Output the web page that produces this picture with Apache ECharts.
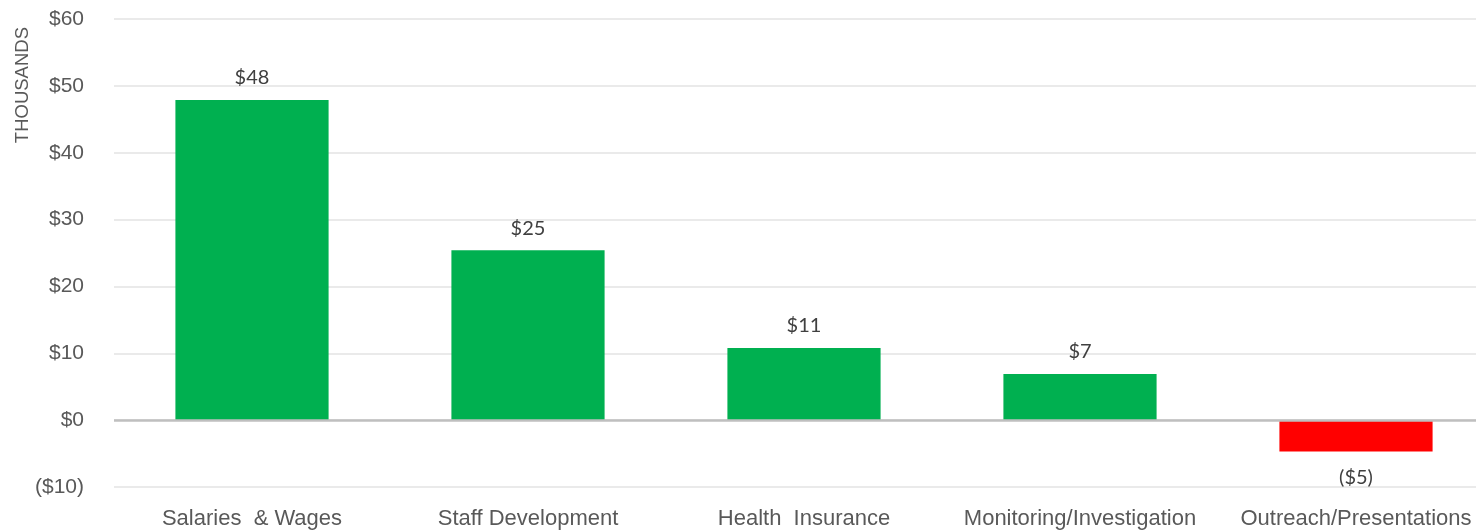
<!DOCTYPE html>
<html><head><meta charset="utf-8">
<script src="https://cdn.jsdelivr.net/npm/echarts@6/dist/echarts.min.js"></script>
<style>html,body{margin:0;padding:0;background:#fff;overflow:hidden;width:1476px;height:530px}#c{width:1494px;height:530px}</style>
</head><body><div id="c"></div>
<script>
const categories = ["Salaries  & Wages", "Staff Development", "Health  Insurance", "Monitoring/Investigation", "Outreach/Presentations"];
const values = [47.9, 25.4, 10.8, 6.9, -4.7];
const yTicks = [-10, 0, 10, 20, 30, 40, 50, 60];
const axisTitle = "THOUSANDS";

const fmtMoney = v => { const r = Math.round(v); return r < 0 ? "($" + Math.abs(r) + ")" : "$" + r; };

const chart = echarts.init(document.getElementById('c'), null, {renderer: 'canvas'});
chart.setOption({
  animation: false,
  backgroundColor: '#fff',
  grid: {left: 114, right: 0, top: 19, bottom: 42, containLabel: false},
  xAxis: {
    type: 'category', data: categories,
    axisLine: {show: false, onZero: false}, axisTick: {show: false},
    axisLabel: {interval: 0, hideOverlap: false, color: '#595959', fontSize: 22, fontFamily: 'Liberation Sans, Arial', margin: 21}
  },
  yAxis: {
    type: 'value', min: yTicks[0], max: yTicks[yTicks.length - 1], interval: 10,
    axisLine: {show: false}, axisTick: {show: false},
    splitLine: {lineStyle: {color: '#e3e3e3', width: 1.5}},
    axisLabel: {color: '#595959', fontSize: 21, fontFamily: 'Liberation Sans, Arial', margin: 30, formatter: fmtMoney}
  },
  graphic: [{
    type: 'text', left: 13, top: 27, rotation: Math.PI / 2,
    style: {text: axisTitle, fill: '#595959', fontSize: 18.5, fontFamily: 'Liberation Sans, Arial'}
  }],
  series: [{
    type: 'bar', barCategoryGap: '44.5%',
    data: values.map(v => ({
      value: v,
      itemStyle: {color: v < 0 ? '#FF0000' : '#00B050'},
      label: {position: v < 0 ? 'bottom' : 'top', distance: v < 0 ? 16 : 12}
    })),
    label: {
      show: true, color: '#404040', fontSize: 20,
      fontFamily: 'Lato, Noto Sans, sans-serif',
      formatter: p => fmtMoney(p.value)
    },
    markLine: {
      silent: true, symbol: ['none', 'none'], label: {show: false},
      lineStyle: {color: '#bfbfbf', width: 2.5, type: 'solid'},
      data: [{yAxis: 0}]
    }
  }]
});
</script></body></html>
